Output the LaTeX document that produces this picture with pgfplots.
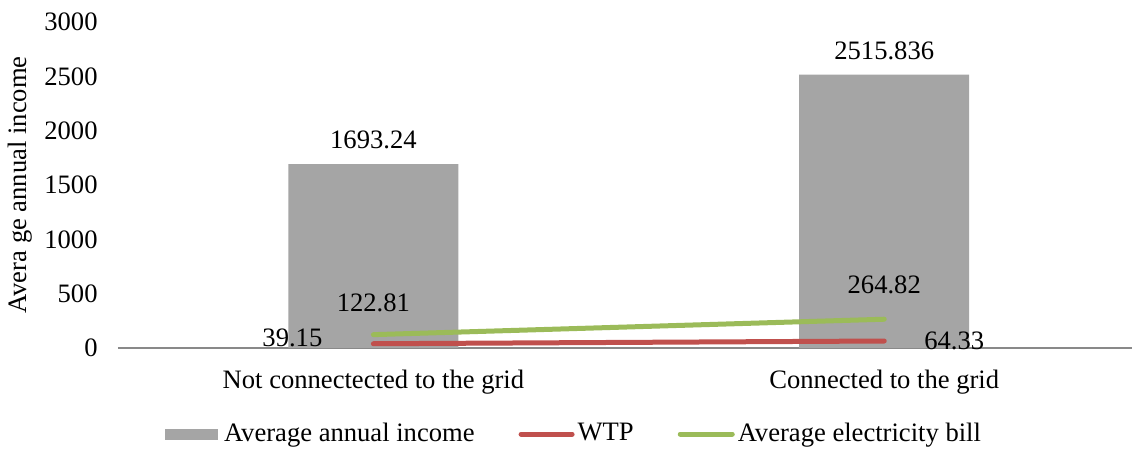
\documentclass[border=0pt]{standalone}
\usepackage{fontspec}
\setmainfont{Liberation Serif}
\usepackage{pgfplots}
\pgfplotsset{compat=1.18}
\definecolor{barg}{HTML}{A5A5A5}
\definecolor{wtpred}{HTML}{C0504D}
\definecolor{billgreen}{HTML}{9BBB59}
\definecolor{axgray}{HTML}{898989}
\begin{document}
\fontsize{13.3}{16}\selectfont
\begin{tikzpicture}
\useasboundingbox (0,0) rectangle (566pt,225pt);
\begin{axis}[
  at={(59pt,51pt)}, anchor=south west,
  scale only axis, width=507pt, height=163pt,
  xmin=-0.5, xmax=1.485, ymin=0, ymax=3000,
  xtick={0,1},
  xticklabels={Not connectected to the grid, Connected to the grid},
  ytick={0,500,...,3000},
  /pgf/number format/assume math mode=true,
  /pgf/number format/1000 sep={},
  major tick length=0pt,
  axis x line*=bottom, axis y line*=left,
  x axis line style={axgray, line width=1pt},
  y axis line style={draw=none},
  yticklabel style={anchor=east, inner sep=0pt, xshift=-10pt},
  xticklabel style={anchor=base, yshift=-20pt},
  ylabel={Avera ge annual income},
  ylabel style={at={(axis description cs:-0.0966,0.5)}, anchor=center, rotate=0},
  legend style={at={(axis description cs:0.4502,-0.264)}, anchor=center, draw=none, fill=none,
    nodes={inner xsep=1.5pt},
    legend columns=3, /tikz/every even column/.append style={column sep=20.5pt}},
  clip=false,
]
\addplot[ybar, bar width=85pt, bar shift=0pt, fill=barg, draw=none,
  nodes near coords, point meta=explicit symbolic,
  nodes near coords style={anchor=center, yshift=12pt, text=black},
  legend image code/.code={\fill[barg] (0pt,-2.75pt) rectangle (26.5pt,2.75pt); \path (28pt,0pt);}]
  coordinates {(0,1693.24)[1693.24] (1,2515.836)[2515.836]};
\addlegendentry{Average annual income}
\addplot[wtpred, line width=2.5pt, line cap=round,
  legend image code/.code={\draw[wtpred, line width=2.5pt, line cap=round] (1.25pt,0pt) -- (26.75pt,0pt);}]
  coordinates {(0,39.15) (1,64.33)}
  node[pos=0, xshift=-40.5pt, yshift=2.8pt, text=black]{39.15}
  node[pos=1, xshift=35pt, text=black]{64.33};
\addlegendentry{WTP}
\addplot[billgreen, line width=2.5pt, line cap=round,
  legend image code/.code={\draw[billgreen, line width=2.5pt, line cap=round] (1.25pt,0pt) -- (27.25pt,0pt);}]
  coordinates {(0,122.81) (1,264.82)}
  node[pos=0, yshift=15.9pt, text=black]{122.81}
  node[pos=1, yshift=17pt, text=black]{264.82};
\addlegendentry{Average electricity bill}
\end{axis}
\end{tikzpicture}
\end{document}
